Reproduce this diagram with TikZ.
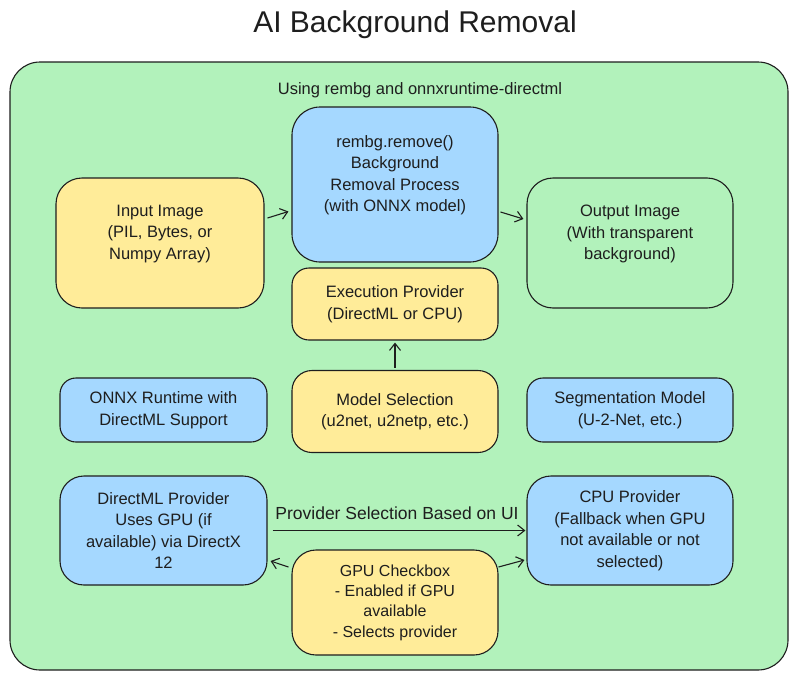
\documentclass[tikz,border=0pt]{standalone}
\usepackage{fontspec}
\setmainfont{Liberation Sans}
\usetikzlibrary{arrows.meta}
\definecolor{stroke}{HTML}{1E1E1E}
\definecolor{bggreen}{HTML}{B2F2BB}
\definecolor{boxyellow}{HTML}{FFEC99}
\definecolor{boxblue}{HTML}{A5D8FF}
\tikzset{
  box/.style={draw=stroke, line width=1.1pt, rounded corners=#1, inner sep=0pt, align=center,
    font=\fontsize{16.5}{21.5}\selectfont, text=stroke},
  box/.default=22pt,
  ybox/.style={box=#1, fill=boxyellow},
  ybox/.default=22pt,
  bbox/.style={box=#1, fill=boxblue},
  bbox/.default=22pt,
  arr/.style={draw=stroke, line width=1.1pt, -{Straight Barb[length=7pt,width=11pt,line width=1.1pt]}},
  lbl/.style={font=\fontsize{17.5}{21.5}\selectfont, text=stroke, inner sep=0pt}
}
\begin{document}
\begin{tikzpicture}[x=1pt,y=-1pt]
\useasboundingbox[fill=white] (0,0) rectangle (797,680);
% title
\node[font=\fontsize{30}{34}\selectfont, text=stroke] (title) at (415,25) {AI Background Removal};
% container
\node[draw=stroke, line width=1.1pt, fill=bggreen, rounded corners=30pt, minimum width=778pt, minimum height=608pt, inner sep=0pt] (container) at (399,366) {};
\node[font=\fontsize{16.5}{18}\selectfont, text=stroke] (sub) at (420,90) {Using rembg and onnxruntime-directml};
% boxes
\node[ybox=26pt, minimum width=208pt, minimum height=130pt] (inp) at (160,243)
  {Input Image\\(PIL, Bytes, or\\Numpy Array)\\\mbox{}};
\node[bbox=28pt, minimum width=206pt, minimum height=155pt] (rem) at (395,184.5)
  {rembg.remove()\\Background\\Removal Process\\(with ONNX model)\\\mbox{}};
\node[box=26pt, minimum width=206pt, minimum height=130pt] (out) at (630,243)
  {Output Image\\(With transparent\\background)\\\mbox{}};
\node[ybox=17pt, minimum width=206pt, minimum height=72pt] (exe) at (395,304)
  {Execution Provider\\(DirectML or CPU)};
\node[bbox=16pt, minimum width=207pt, minimum height=64pt] (onnx) at (163.5,410)
  {ONNX Runtime with\\DirectML Support};
\node[ybox=20pt, minimum width=206pt, minimum height=82pt] (model) at (395,411.5)
  {Model Selection\\(u2net, u2netp, etc.)};
\node[bbox=16pt, minimum width=206pt, minimum height=64pt] (seg) at (630,410)
  {Segmentation Model\\(U-2-Net, etc.)};
\node[bbox=24pt, minimum width=207pt, minimum height=109pt] (dml) at (163.5,530.5)
  {DirectML Provider\\Uses GPU (if\\available) via DirectX\\12};
\node[bbox=24pt, minimum width=206pt, minimum height=109pt] (cpu) at (630,530.5)
  {CPU Provider\\(Fallback when GPU\\not available or not\\selected)};
\node[ybox=24pt, minimum width=206pt, minimum height=105pt, font=\fontsize{16}{20.3}\selectfont] (gpu) at (395,602.5)
  {GPU Checkbox\\- Enabled if GPU\\available\\- Selects provider};
% connectors
\draw[arr] ([xshift=3pt,yshift=25pt]inp.east) -- ([xshift=-3pt,yshift=-27pt]rem.west);
\draw[arr] ([xshift=2pt,yshift=-27.5pt]rem.east) -- ([xshift=-3pt,yshift=24pt]out.west);
\draw[arr, shorten <=2pt, shorten >=2pt] (model.north) -- (exe.south);
\draw[arr, shorten <=5pt, shorten >=1pt] (dml.east) -- node[lbl, above=10pt] (provlbl) {Provider Selection Based on UI} (cpu.west);
\draw[arr] ([xshift=-3pt,yshift=35.5pt]gpu.west) -- ([xshift=3pt,yshift=-30.5pt]dml.east);
\draw[arr] ([xshift=0pt,yshift=35.5pt]gpu.east) -- ([xshift=-2pt,yshift=-29.5pt]cpu.west);
\end{tikzpicture}
\end{document}
